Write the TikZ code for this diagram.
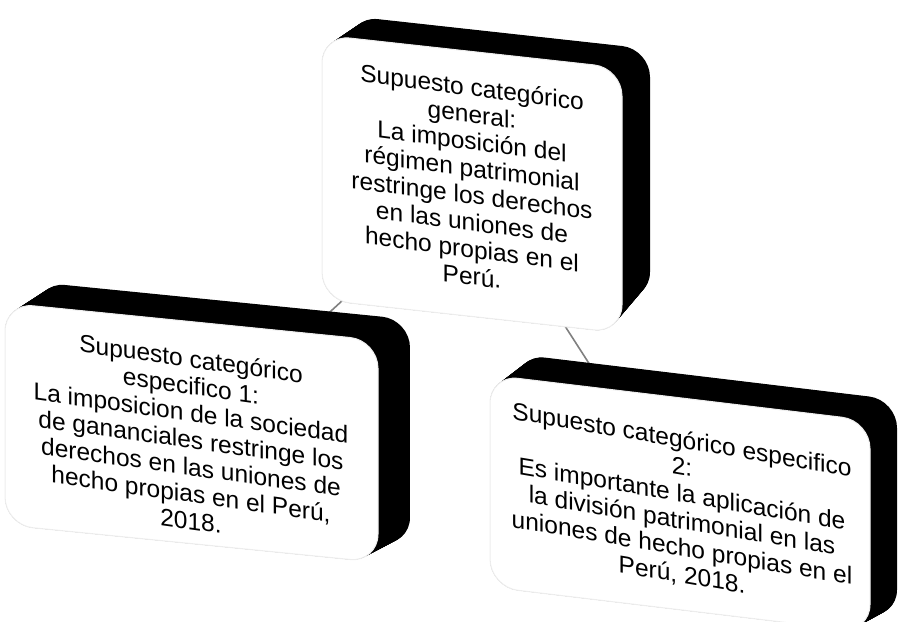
\documentclass[tikz,border=0pt]{standalone}
\usepackage{fontspec}
\setmainfont{Liberation Sans}
\usetikzlibrary{backgrounds}
\begin{document}
\begin{tikzpicture}[x=1pt,y=1pt,
  face/.style={fill=white, draw=black!7, line width=1pt, rounded corners=28},
  extr/.style={fill=black, rounded corners=28},
  txt/.style={align=center, font=\fontsize{24.5}{27}\selectfont, transform shape, inner sep=0pt},
  conn/.style={draw=black!50, line width=1.6pt}]
\useasboundingbox (0,0) rectangle (899,621);

% general box
\begin{scope}[shift={(322,586)}, yslant=-0.11]
  \foreach \t in {0,0.025,...,1.0001}
    \fill[extr] ({\t*28},{-265+\t*36}) rectangle ({300+\t*28},{\t*22});
  \filldraw[face] (0,-265) rectangle (300,0);
  \node[txt, yslant=-0.02] (gen) at (150,-130) {Supuesto categórico\\ general:\\ La imposición del\\ régimen patrimonial\\ restringe los derechos\\ en las uniones de\\ hecho propias en el\\ Perú.};
\end{scope}

% specific box 1
\begin{scope}[shift={(5,318)}, yslant=-0.1]
  \foreach \t in {0,0.025,...,1.0001}
    \fill[extr] ({\t*32},{-222+\t*20}) rectangle ({373+\t*32},{\t*24});
  \filldraw[face] (0,-222) rectangle (373,0);
  \node[txt, yslant=-0.04] (esp1) at (186,-118) {Supuesto categórico\\ especifico 1:\\ La imposicion de la sociedad\\ de gananciales restringe los\\ derechos en las uniones de\\ hecho propias en el Perú,\\ 2018.};
\end{scope}

% specific box 2
\begin{scope}[shift={(490,246)}, yslant=-0.12]
  \foreach \t in {0,0.025,...,1.0001}
    \fill[extr] ({\t*27},{-212+\t*18}) rectangle ({380+\t*27},{\t*24});
  \filldraw[face] (0,-212) rectangle (380,0);
  \node[txt, yslant=-0.05] (esp2) at (192,-110) {Supuesto categórico especifico\\ 2:\\ Es importante la aplicación de\\ la división patrimonial en las\\ uniones de hecho propias en el\\ Perú, 2018.};
\end{scope}

\begin{pgfonlayer}{background}
  \draw[conn] (gen.center) -- (esp1.center);
  \draw[conn] (gen.center) -- (esp2.center);
\end{pgfonlayer}
\end{tikzpicture}
\end{document}
